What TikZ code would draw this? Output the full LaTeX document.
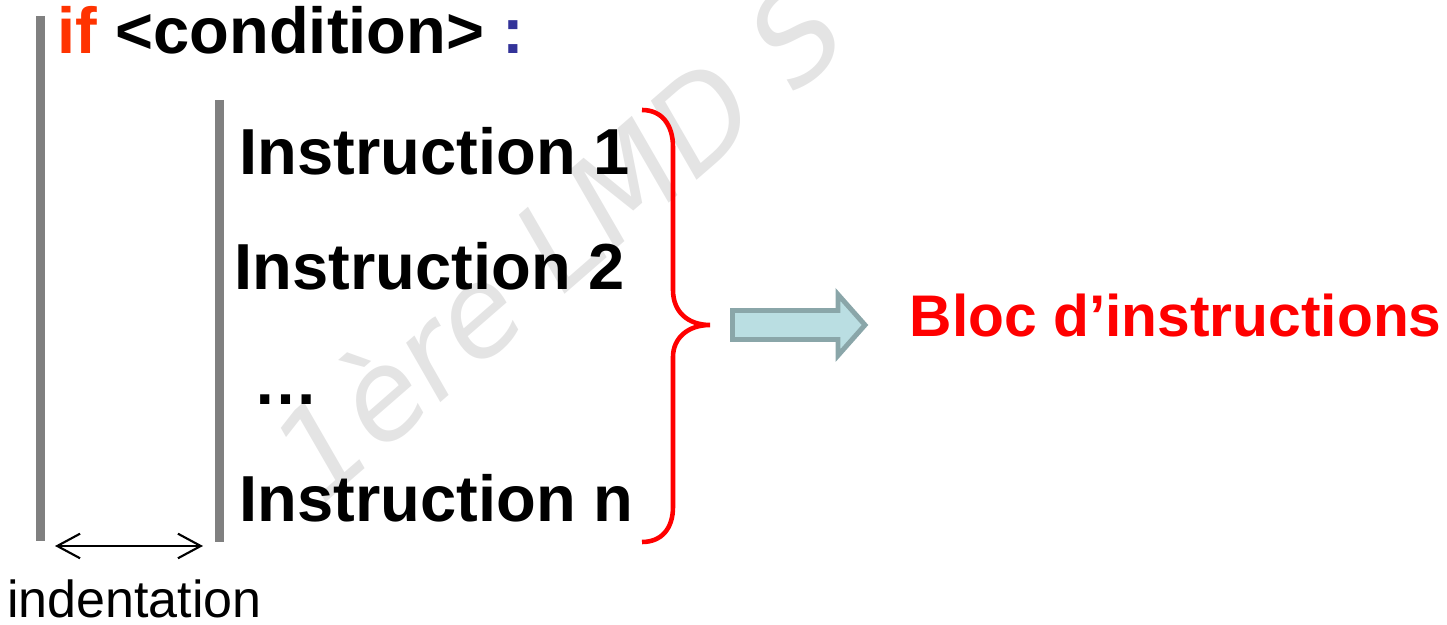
\documentclass[tikz,border=0pt]{standalone}
\usepackage{fontspec}
\setmainfont{Liberation Sans}
\newfontfamily\markfont{DejaVu Sans}
\usetikzlibrary{arrows.meta}

\definecolor{kwred}{HTML}{FF3300}
\definecolor{colonblue}{HTML}{333399}
\definecolor{bracered}{HTML}{FF0000}
\definecolor{bargray}{HTML}{808080}
\definecolor{arrowfill}{HTML}{BADEE2}
\definecolor{arrowedge}{HTML}{8AA6A9}
\definecolor{markgray}{HTML}{E4E4E4}

\tikzset{
  code/.style={anchor=base west, inner sep=0pt, font=\bfseries\fontsize{18.5}{22}\selectfont},
  bar/.style={bargray, line width=2.6pt},
}

\begin{document}
\begin{tikzpicture}[x=0.01cm, y=-0.01cm]
            \useasboundingbox (0,0) rectangle (1447,625);
            % watermark behind everything
            \node[markgray, rotate=41, inner sep=0pt, font=\markfont\itshape\fontsize{35}{35}\selectfont] (mark) at (556,238) {1ère LMD S};
            % indentation bars
            \draw[bar] (40.5,16) -- (40.5,541);
            \draw[bar] (219.5,100) -- (219.5,542);
            \draw[{Straight Barb[length=6.5pt,width=7pt]}-{Straight Barb[length=6.5pt,width=7pt]}, line width=0.6pt] (55,546) -- (203,546);
            \node[anchor=base west, inner sep=0pt, font=\fontsize{14.8}{18}\selectfont] (indent) at (6.5,618) {indentation};
            % if line and the block
            \node[code] (ifline) at (57,54) {\textcolor{kwred}{if} <condition> \textcolor{colonblue}{:}};
            \node[code] (ins1) at (239,175) {Instruction 1};
            \node[code] (ins2) at (234,290) {Instruction 2};
            \node[code] (dots) at (253,405) {…};
            \node[code] (insn) at (239,522) {Instruction n};
            % brace
            \draw[bracered, line width=1.3pt] (642,110) .. controls (662,110) and (673,125) .. (673,147) -- (673,290)
                .. controls (673,312) and (688,325) .. (710,325) .. controls (688,325) and (673,338) .. (673,357)
                -- (673,507) .. controls (673,528) and (662,542) .. (642,542);
            % block arrow
            \draw[arrowedge, fill=arrowfill, line width=1.4pt, line join=miter] (732.5,310.5) -- (838,310.5) -- (838,294.5) -- (865,325)
                -- (838,355.5) -- (838,339.5) -- (732.5,339.5) -- cycle;
            \node[anchor=base west, inner sep=0pt, bracered, font=\bfseries\fontsize{16.7}{20}\selectfont] (bloc) at (909,337) {Bloc d’instructions};
        \end{tikzpicture}
\end{document}
